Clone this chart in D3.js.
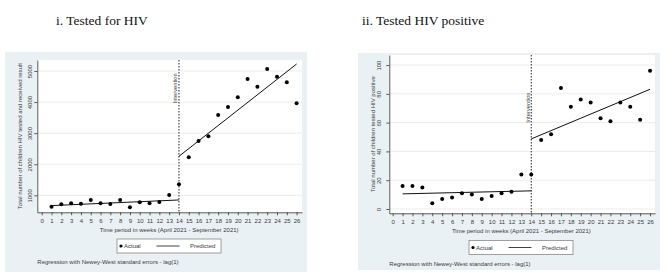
<!DOCTYPE html>
<html lang="en">
<head>
  <meta charset="UTF-8">
  <title>ITS charts</title>
  <script src="https://cdn.jsdelivr.net/npm/d3@7"></script>
  <style>
    body { margin: 0; background: #fff; }
    text { font-family: "Liberation Sans", Arial, sans-serif; fill: #3a3a3a; }
    .title { font-family: "Liberation Serif", "Times New Roman", serif; font-size: 13.5px; fill: #111; }
  </style>
</head>
<body>
<script>
let width = 669;
let height = 278;

// weeks 1..26, intervention at week 14
let weeks = d3.range(1, 27);
let xTicks = d3.range(0, 27);
let interventionWeek = 14;

// i. Tested for HIV
let testedActual = [635, 710, 743, 732, 850, 743, 721, 850, 614, 775, 743, 786, 1011,
  1354, 2222, 2748, 2898, 3584, 3842, 4153, 4743, 4496, 5064, 4818, 4635, 3960];
let testedPredPre = [[1, 668], [14, 850]];
let testedPredPost = [[14, 2255], [26, 5225]];
let testedYTicks = [1000, 2000, 3000, 4000, 5000];

// ii. Tested HIV positive
let positiveActual = [16, 16, 15, 4, 7, 8, 11, 10, 7, 9, 11, 12, 24,
  24, 48, 52, 84, 71, 76, 74, 63, 61, 74, 71, 62, 96];
let positivePredPre = [[1, 10.5], [14, 12.6]];
let positivePredPost = [[14, 48.7], [26, 83.2]];
let positiveYTicks = [0, 20, 40, 60, 80, 100];

let svg = d3.select('body')
  .append('svg')
  .attr('width', width)
  .attr('height', height);

function drawPanel(p) {
  let g = svg.append('g');

  g.append('text')
    .attr('class', 'title')
    .attr('x', p.titleX)
    .attr('y', 25)
    .text(p.title);

  // graph region
  g.append('rect')
    .attr('x', p.box[0]).attr('y', p.box[1])
    .attr('width', p.box[2] - p.box[0]).attr('height', p.box[3] - p.box[1])
    .attr('fill', '#eaf1f4');

  let x = d3.scaleLinear().domain(p.xDomain).range([p.plot[0], p.plot[2]]);
  let y = d3.scaleLinear().domain(p.yDomain).range([p.plot[3], p.plot[1]]);

  // plot region
  g.append('rect')
    .attr('x', p.plot[0]).attr('y', p.plot[1])
    .attr('width', p.plot[2] - p.plot[0]).attr('height', p.plot[3] - p.plot[1])
    .attr('fill', '#fff');

  // gridlines
  g.selectAll('line.grid')
    .data(p.yTicks)
    .enter().append('line')
    .attr('class', 'grid')
    .attr('x1', p.plot[0]).attr('x2', p.plot[2])
    .attr('y1', d => y(d)).attr('y2', d => y(d))
    .attr('stroke', '#ececec')
    .attr('stroke-width', 1);

  let xAxis = d3.axisBottom(x).tickValues(xTicks).tickSize(3).tickPadding(3.5).tickSizeOuter(0);
  let xg = g.append('g')
    .attr('transform', 'translate(0,' + p.plot[3] + ')')
    .call(xAxis);
  xg.selectAll('text').style('font-size', '6px').attr('fill', '#3a3a3a');

  let yAxis = d3.axisLeft(y).tickValues(p.yTicks).tickFormat(d3.format('d')).tickSize(3).tickSizeOuter(0);
  let yg = g.append('g')
    .attr('transform', 'translate(' + p.plot[0] + ',0)')
    .call(yAxis);
  yg.selectAll('text')
    .style('font-size', '6px')
    .attr('fill', '#3a3a3a')
    .attr('x', 0).attr('dy', 0)
    .attr('transform', 'translate(' + p.yLabelOffset + ',0) rotate(-90)')
    .attr('text-anchor', 'middle');

  g.selectAll('.domain, .tick line').attr('stroke', '#333').attr('stroke-width', 0.8);

  // axis titles
  g.append('text')
    .attr('x', (x(0) + x(26)) / 2)
    .attr('y', p.plot[3] + 20)
    .attr('text-anchor', 'middle')
    .style('font-size', '6px')
    .text('Time period in weeks (April 2021 - September 2021)');

  g.append('text')
    .attr('transform', 'translate(' + p.yTitleX + ',' + ((p.plot[1] + p.plot[3]) / 2) + ') rotate(-90)')
    .attr('text-anchor', 'middle')
    .style('font-size', '6px')
    .text(p.yTitle);

  // intervention line
  g.append('line')
    .attr('x1', x(interventionWeek)).attr('x2', x(interventionWeek))
    .attr('y1', p.plot[1]).attr('y2', p.plot[3])
    .attr('stroke', '#222')
    .attr('stroke-width', 1)
    .attr('stroke-dasharray', '1.5,1.5');

  g.append('text')
    .attr('transform', 'translate(' + (x(interventionWeek) - 1.5) + ',' + y(p.interventionY) + ') rotate(-90)')
    .attr('text-anchor', 'end')
    .style('font-size', '5.8px')
    .text('Intervention');

  // predicted lines
  let line = d3.line().x(d => x(d[0])).y(d => y(d[1]));
  [p.predPre, p.predPost].forEach(seg => {
    g.append('path')
      .attr('d', line(seg))
      .attr('fill', 'none')
      .attr('stroke', '#111')
      .attr('stroke-width', 1);
  });

  // actual points
  g.selectAll('circle.pt')
    .data(p.actual)
    .enter().append('circle')
    .attr('class', 'pt')
    .attr('cx', (d, i) => x(weeks[i]))
    .attr('cy', d => y(d))
    .attr('r', 2)
    .attr('fill', '#000');

  // legend
  let lg = g.append('g').attr('transform', 'translate(' + p.legend[0] + ',' + p.legend[1] + ')');
  lg.append('rect')
    .attr('width', 104).attr('height', 14)
    .attr('fill', '#fff')
    .attr('stroke', '#888')
    .attr('stroke-width', 0.8);
  lg.append('circle').attr('cx', 4).attr('cy', 7).attr('r', 1.6).attr('fill', '#000');
  lg.append('text').attr('x', 7).attr('y', 9.2).style('font-size', '6px').text('Actual');
  lg.append('line').attr('x1', 39.5).attr('x2', 62.5).attr('y1', 7).attr('y2', 7)
    .attr('stroke', '#111').attr('stroke-width', 0.8);
  lg.append('text').attr('x', 73).attr('y', 9.2).style('font-size', '6px').text('Predicted');

  g.append('text')
    .attr('x', p.plot[0])
    .attr('y', p.legend[1] + 25)
    .style('font-size', '6px')
    .text('Regression with Newey-West standard errors - lag(1)');
}

drawPanel({
  title: 'i. Tested for HIV',
  titleX: 56,
  box: [5, 52, 307, 272],
  plot: [37.3, 60, 302, 212.3],
  xDomain: [-0.45, 26.55],
  yDomain: [453, 5354],
  yTicks: testedYTicks,
  yLabelOffset: -5,
  yTitle: 'Total number of children HIV tested and received result',
  yTitleX: 22,
  interventionY: 4930,
  actual: testedActual,
  predPre: testedPredPre,
  predPost: testedPredPost,
  legend: [117, 239]
});

drawPanel({
  title: 'ii. Tested HIV positive',
  titleX: 362,
  box: [358, 53, 660, 270],
  plot: [389.3, 55, 655, 213.3],
  xDomain: [-0.34, 26.5],
  yDomain: [-3, 107],
  yTicks: positiveYTicks,
  yLabelOffset: -8,
  yTitle: 'Total number of children tested HIV positive',
  yTitleX: 375,
  interventionY: 81,
  actual: positiveActual,
  predPre: positivePredPre,
  predPost: positivePredPost,
  legend: [469, 240.5]
});
</script>
</body>
</html>
